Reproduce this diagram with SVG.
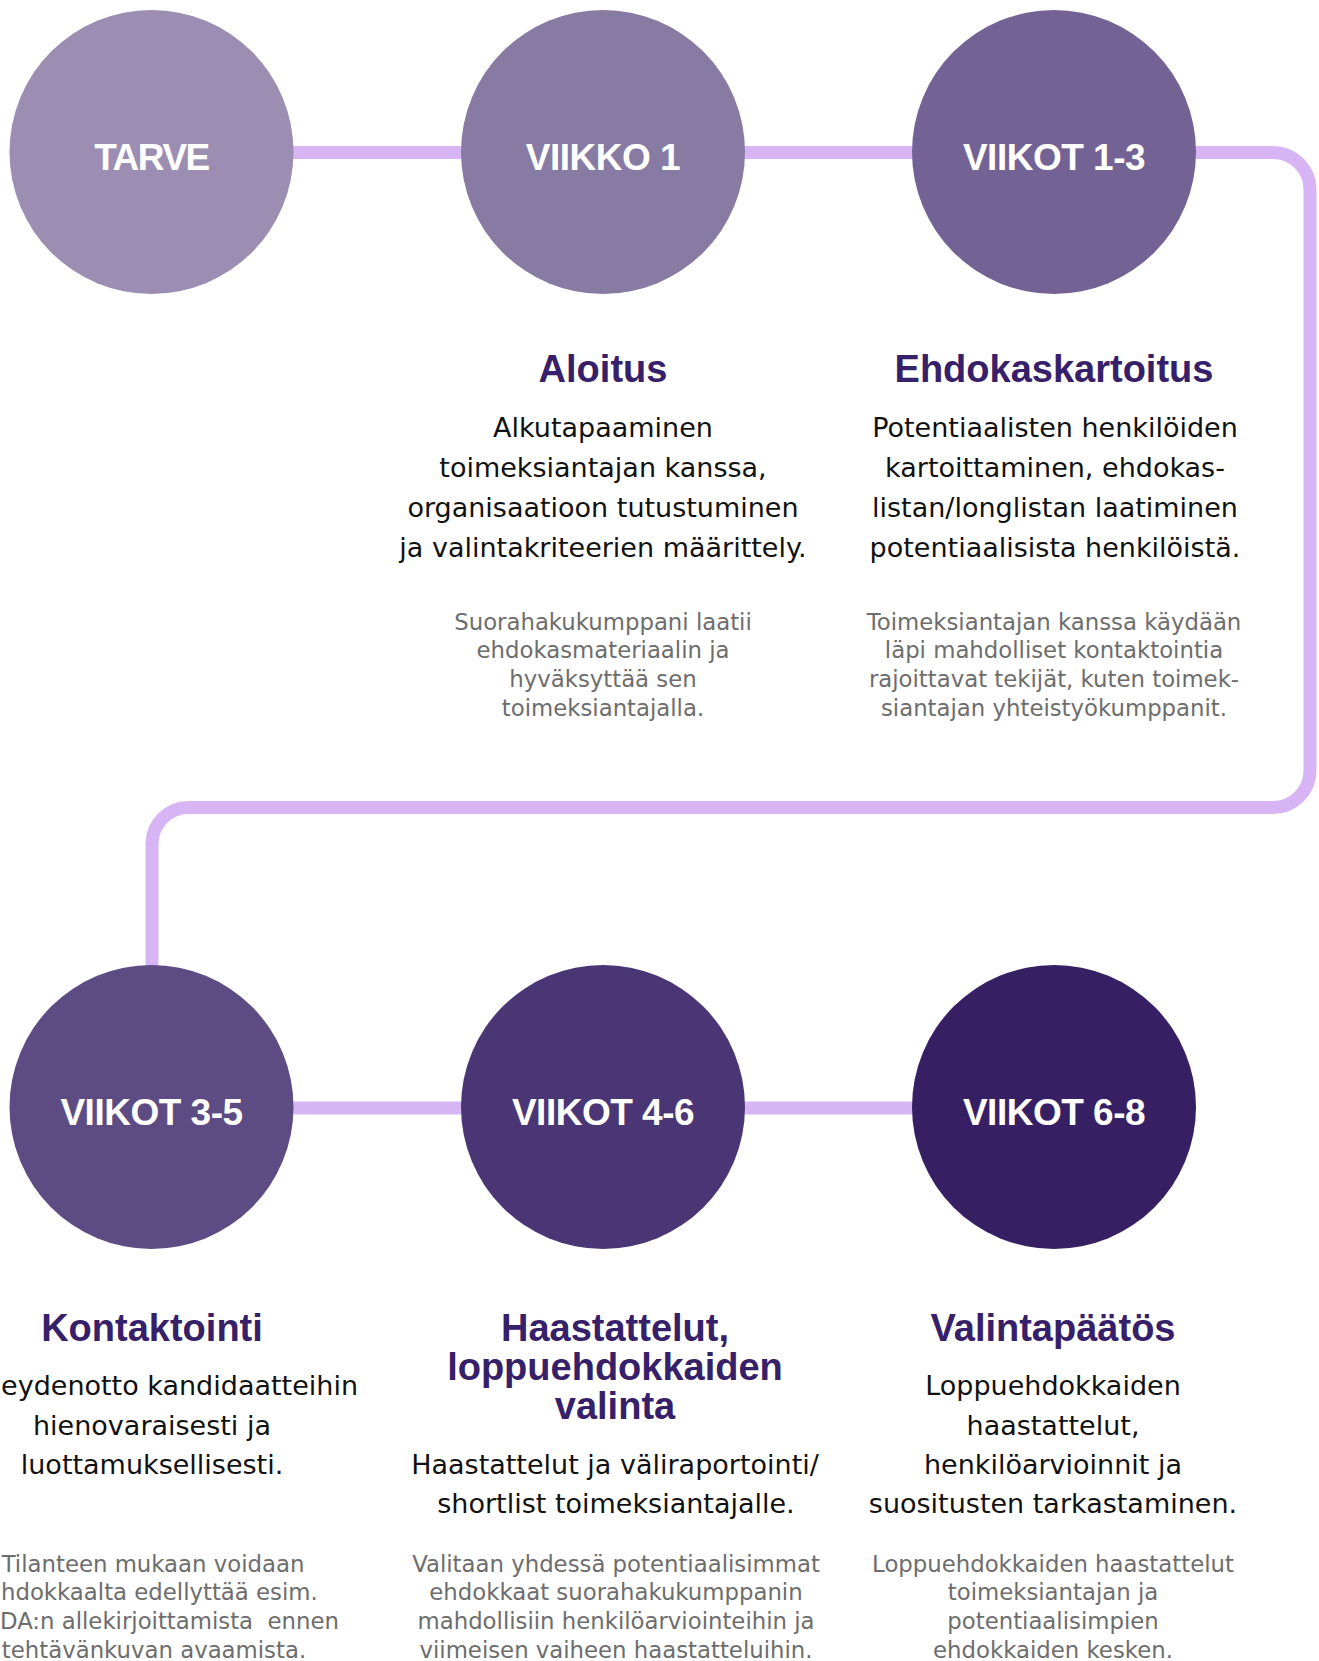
<svg xmlns="http://www.w3.org/2000/svg" width="1319" height="1661" viewBox="0 0 1319 1661">
  <style>
    .lbl { font-family: "Liberation Sans", Arial, sans-serif; font-weight: bold; font-size: 37px; fill: #ffffff; text-anchor: middle; }
    .ttl { font-family: "Liberation Sans", Arial, sans-serif; font-weight: bold; font-size: 38px; fill: #37206a; text-anchor: middle; }
    .body { font-family: "DejaVu Sans", sans-serif; font-size: 27px; fill: #111111; text-anchor: middle; }
    .note { font-family: "DejaVu Sans", sans-serif; font-size: 22.8px; fill: #6d6d6d; text-anchor: middle; }
    .end { text-anchor: end; }
    .start { text-anchor: start; }
    .conn { fill: none; stroke: #d7b4f4; stroke-width: 13; }
  </style>
  <rect width="1319" height="1661" fill="#ffffff"/>
  <g id="connectors">
    <line class="conn" x1="280" y1="152.5" x2="475" y2="152.5"/>
    <line class="conn" x1="730" y1="152.5" x2="925" y2="152.5"/>
    <path class="conn" d="M1180 152.5 H1273 A37 37 0 0 1 1310 189.5 V770.5 A37 37 0 0 1 1273 807.5 H188.5 A36.5 36.5 0 0 0 152 844 V980"/>
    <line class="conn" x1="280" y1="1108" x2="475" y2="1108"/>
    <line class="conn" x1="730" y1="1108" x2="925" y2="1108"/>
  </g>
  <g id="tarve">
    <circle cx="151.5" cy="152" r="142" fill="#9b8eb2"/>
    <text class="lbl" x="151.5" y="170" letter-spacing="-1.5">TARVE</text>
  </g>
  <g id="viikko1">
    <circle cx="603" cy="152" r="142" fill="#877aa3"/>
    <text class="lbl" x="603" y="170" letter-spacing="-0.5">VIIKKO 1</text>
    <text class="ttl" x="603" y="382">Aloitus</text>
    <text class="body" x="603" y="437">Alkutapaaminen</text>
    <text class="body" x="603" y="477">toimeksiantajan kanssa,</text>
    <text class="body" x="603" y="517">organisaatioon tutustuminen</text>
    <text class="body" x="603" y="557">ja valintakriteerien määrittely.</text>
    <text class="note" x="603" y="630">Suorahakukumppani laatii</text>
    <text class="note" x="603" y="658">ehdokasmateriaalin ja</text>
    <text class="note" x="603" y="687">hyväksyttää sen</text>
    <text class="note" x="603" y="716">toimeksiantajalla.</text>
  </g>
  <g id="viikot13">
    <circle cx="1054" cy="152" r="142" fill="#736394"/>
    <text class="lbl" x="1054" y="170" letter-spacing="-0.5">VIIKOT 1-3</text>
    <text class="ttl" x="1054" y="382">Ehdokaskartoitus</text>
    <text class="body" x="1055" y="437">Potentiaalisten henkilöiden</text>
    <text class="body" x="1055" y="477">kartoittaminen, ehdokas-</text>
    <text class="body" x="1055" y="517">listan/longlistan laatiminen</text>
    <text class="body" x="1055" y="557">potentiaalisista henkilöistä.</text>
    <text class="note" x="1054" y="630">Toimeksiantajan kanssa käydään</text>
    <text class="note" x="1054" y="658">läpi mahdolliset kontaktointia</text>
    <text class="note" x="1054" y="687">rajoittavat tekijät, kuten toimek-</text>
    <text class="note" x="1054" y="716">siantajan yhteistyökumppanit.</text>
  </g>
  <g id="viikot35">
    <circle cx="151.5" cy="1107" r="142" fill="#5d4c84"/>
    <text class="lbl" x="151.5" y="1125" letter-spacing="-0.5">VIIKOT 3-5</text>
    <text class="ttl" x="152" y="1341">Kontaktointi</text>
    <text class="body end" x="358" y="1395">eydenotto kandidaatteihin</text>
    <text class="body" x="152" y="1435">hienovaraisesti ja</text>
    <text class="body" x="152" y="1474">luottamuksellisesti.</text>
    <text class="note" x="153" y="1572">Tilanteen mukaan voidaan</text>
    <text class="note start" x="1" y="1600">hdokkaalta edellyttää esim.</text>
    <text class="note start" x="0" y="1629">DA:n allekirjoittamista&#160; ennen</text>
    <text class="note" x="154" y="1658">tehtävänkuvan avaamista.</text>
  </g>
  <g id="viikot46">
    <circle cx="603" cy="1107" r="142" fill="#4a3674"/>
    <text class="lbl" x="603" y="1125" letter-spacing="-0.5">VIIKOT 4-6</text>
    <text class="ttl" x="615" y="1341">Haastattelut,</text>
    <text class="ttl" x="615" y="1380">loppuehdokkaiden</text>
    <text class="ttl" x="615" y="1419">valinta</text>
    <text class="body" x="615" y="1474">Haastattelut ja väliraportointi/</text>
    <text class="body" x="616" y="1513">shortlist toimeksiantajalle.</text>
    <text class="note" x="616" y="1572">Valitaan yhdessä potentiaalisimmat</text>
    <text class="note" x="616" y="1600">ehdokkaat suorahakukumppanin</text>
    <text class="note" x="616" y="1629">mahdollisiin henkilöarviointeihin ja</text>
    <text class="note" x="616" y="1658">viimeisen vaiheen haastatteluihin.</text>
  </g>
  <g id="viikot68">
    <circle cx="1054" cy="1107" r="142" fill="#371f63"/>
    <text class="lbl" x="1054" y="1125" letter-spacing="-0.5">VIIKOT 6-8</text>
    <text class="ttl" x="1053" y="1341">Valintapäätös</text>
    <text class="body" x="1053" y="1395">Loppuehdokkaiden</text>
    <text class="body" x="1053" y="1435">haastattelut,</text>
    <text class="body" x="1053" y="1474">henkilöarvioinnit ja</text>
    <text class="body" x="1053" y="1513">suositusten tarkastaminen.</text>
    <text class="note" x="1053" y="1572">Loppuehdokkaiden haastattelut</text>
    <text class="note" x="1053" y="1600">toimeksiantajan ja</text>
    <text class="note" x="1053" y="1629">potentiaalisimpien</text>
    <text class="note" x="1053" y="1658">ehdokkaiden kesken.</text>
  </g>
</svg>
